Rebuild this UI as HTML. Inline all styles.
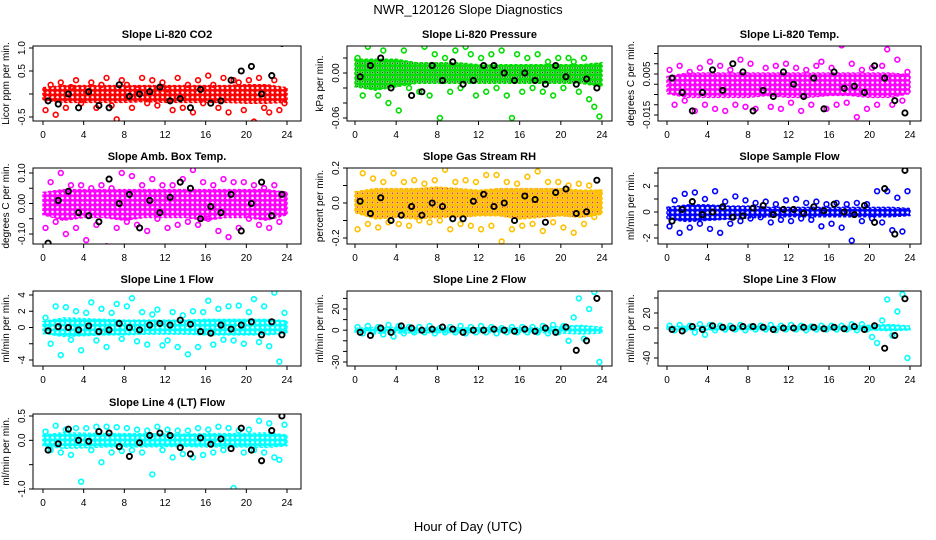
<!DOCTYPE html>
<html>
<head>
<meta charset="utf-8">
<style>
  html,body{margin:0;padding:0;background:#fff;}
  svg{display:block;font-family:"Liberation Sans",Arial,sans-serif;}
</style>
</head>
<body>
<svg id="chart" width="936" height="540" viewBox="0 0 936 540" xmlns="http://www.w3.org/2000/svg">
  <defs id="defs"></defs>
  <text x="468" y="14" text-anchor="middle" font-size="13">NWR_120126  Slope Diagnostics</text>
  <text x="468" y="531" text-anchor="middle" font-size="13">Hour of Day (UTC)</text>
</svg>
<script>
const xTicks = [0,4,8,12,16,20,24];
const bandHours = [0,2,4,6,8,10,12,14,16,18,20,22,24];

const co2Lo = [-0.15,-0.2,-0.2,-0.2,-0.2,-0.18,-0.2,-0.2,-0.2,-0.2,-0.22,-0.22,-0.2];
const co2Hi = [0.15,0.2,0.2,0.2,0.2,0.2,0.2,0.2,0.2,0.2,0.22,0.22,0.15];
const co2Pts = [-0.35,0.2,-0.45,0.25,-0.3,0.15,0.3,-0.2,0.05,0.25,-0.3,0.2,0.35,-0.25,-0.55,0.3,0.2,-0.3,0.1,0.35,-0.2,0.3,-0.25,0.25,0.1,-0.35,0.35,-0.3,0.2,-0.4,0.3,-0.2,0.4,0.2,-0.3,0.35,-0.4,0.3,0.25,-0.35,0.3,-0.6,0.35,-0.3,-0.4,0.3,-0.35,-0.2];
const co2Blk = [-0.15,-0.22,0.0,-0.3,0.05,-0.25,-0.3,0.2,-0.05,0.0,0.05,0.15,-0.15,-0.1,-0.3,0.1,-0.2,-0.15,0.3,0.5,0.6,0.0,0.4,1.1];

const presLo = [-0.02,-0.025,-0.02,-0.015,-0.015,-0.015,-0.015,-0.015,-0.015,-0.015,-0.015,-0.015,-0.02];
const presHi = [0.02,0.02,0.02,0.015,0.015,0.015,0.012,0.012,0.012,0.012,0.012,0.012,0.015];
const presPts = [0.02,-0.03,0.035,0.04,-0.03,0.03,-0.04,0.05,-0.05,0.03,-0.02,0.04,-0.025,0.035,-0.03,0.025,-0.06,0.02,-0.025,0.03,-0.02,0.035,0.025,-0.03,0.02,-0.025,0.025,-0.02,0.03,-0.03,-0.06,0.025,-0.025,0.02,-0.02,0.025,-0.025,0.015,-0.03,0.02,-0.02,0.02,0.015,-0.025,0.02,-0.035,-0.045,-0.058];
const presBlk = [-0.005,0.01,0.02,-0.02,0.045,-0.03,-0.025,0.01,-0.01,0.015,-0.015,-0.01,0.01,0.01,0.0,-0.01,0.0,-0.01,-0.015,0.01,-0.005,-0.015,-0.008,-0.02];

const tempLo = [-0.005,-0.007,-0.007,-0.007,-0.007,-0.006,-0.007,-0.007,-0.006,-0.006,-0.007,-0.007,-0.005];
const tempHi = [0.004,0.006,0.006,0.006,0.006,0.006,0.006,0.006,0.006,0.006,0.006,0.006,0.005];
const tempPts = [0.007,-0.01,0.009,-0.008,0.006,-0.013,0.008,-0.01,0.011,-0.012,0.009,-0.013,0.007,-0.01,0.012,-0.011,0.01,-0.012,-0.02,0.008,-0.011,0.009,-0.012,0.01,-0.009,0.008,-0.013,0.007,-0.01,0.009,0.011,-0.012,0.008,-0.01,0.019,-0.009,0.01,-0.016,0.007,-0.012,0.008,-0.01,0.009,0.017,-0.01,0.012,-0.008,0.006];
const tempBlk = [0.003,-0.004,-0.013,-0.004,0.007,-0.003,0.01,0.006,-0.013,-0.003,-0.006,0.006,0.0,-0.006,0.003,-0.012,0.006,-0.002,-0.001,-0.004,0.009,0.003,-0.008,-0.014];

const ambLo = [-0.04,-0.06,-0.05,-0.05,-0.06,-0.05,-0.05,-0.05,-0.06,-0.05,-0.05,-0.06,-0.04];
const ambHi = [0.04,0.05,0.05,0.05,0.05,0.05,0.05,0.05,0.05,0.05,0.05,0.05,0.04];
const ambPts = [-0.08,0.07,-0.06,0.1,-0.1,0.06,-0.08,0.06,-0.12,0.05,-0.07,0.06,-0.14,0.05,-0.08,0.1,-0.06,0.09,-0.07,0.06,-0.09,0.08,-0.05,0.06,-0.08,0.06,-0.07,0.08,-0.06,0.11,-0.07,0.07,-0.05,0.06,-0.09,0.08,-0.11,0.07,-0.08,0.07,-0.05,0.06,-0.07,0.05,-0.08,0.06,-0.06,0.03];
const ambBlk = [-0.13,0.01,0.04,-0.03,-0.04,-0.06,0.08,0.0,0.03,-0.08,0.01,-0.03,0.02,0.07,0.05,-0.05,-0.01,-0.03,0.03,-0.09,0.0,0.07,-0.04,0.03];

const rhLo = [-0.06,-0.1,-0.09,-0.1,-0.09,-0.09,-0.08,-0.08,-0.1,-0.09,-0.08,-0.09,-0.07];
const rhHi = [0.07,0.09,0.09,0.09,0.1,0.09,0.08,0.09,0.09,0.09,0.09,0.08,0.08];
const rhPts = [-0.15,0.17,-0.12,0.14,-0.14,0.12,-0.11,0.17,-0.12,0.12,-0.13,0.13,-0.1,0.11,-0.11,0.13,-0.1,0.19,-0.15,0.12,-0.12,0.13,-0.13,0.12,-0.15,0.16,-0.13,0.16,-0.22,0.12,-0.15,0.11,-0.13,0.15,-0.12,0.18,-0.16,0.12,-0.11,0.12,-0.14,0.1,-0.17,0.11,-0.12,0.1,-0.08,0.06];
const rhBlk = [0.01,-0.06,0.03,-0.1,-0.07,-0.02,-0.07,0.0,-0.02,-0.09,-0.09,0.01,0.05,-0.02,0.0,-0.1,0.04,0.02,-0.11,0.06,0.08,-0.06,-0.05,0.13];

const sfLo = [-0.6,-0.8,-0.7,-0.6,-0.5,-0.4,-0.4,-0.4,-0.4,-0.4,-0.4,-0.4,-0.3];
const sfHi = [0.4,0.6,0.6,0.5,0.5,0.4,0.4,0.4,0.4,0.4,0.4,0.4,0.3];
const sfPts = [-1.1,0.9,-1.6,1.4,-1.2,1.5,-0.9,1.0,-1.3,1.6,-1.6,0.8,-0.9,1.2,-0.7,0.9,-0.5,0.7,-0.4,0.8,-0.8,0.6,-0.6,0.9,-0.7,1.0,-0.5,0.7,-0.6,0.8,-1.1,0.6,-0.9,0.7,-1.2,0.6,-2.2,0.7,-0.7,0.6,-0.5,1.6,-0.8,1.6,-1.4,1.1,-1.5,1.6];
const sfBlk = [-0.7,0.2,0.8,-0.2,0.0,0.4,-0.4,-0.3,0.3,0.5,-0.2,0.2,0.2,-0.1,0.4,0.1,0.6,0.0,-0.2,0.5,-0.8,1.8,-1.7,3.2];

const l1Lo = [-0.8,-1.2,-1.1,-1.0,-1.0,-0.9,-0.9,-0.9,-1.0,-1.0,-1.0,-1.0,-0.8];
const l1Hi = [0.8,1.3,1.2,1.1,1.0,1.0,1.0,1.0,1.1,1.1,1.1,1.1,0.9];
const l1Pts = [1.2,-2.0,2.6,-3.4,2.5,-1.5,2.0,-2.8,1.8,3.1,-1.6,2.3,-2.4,1.8,2.9,-1.4,2.6,3.6,-1.7,1.9,-2.1,1.6,2.2,-2.2,-1.6,1.9,-2.4,1.5,-3.3,2.0,-2.4,1.9,3.3,-2.1,2.3,-1.5,2.6,-1.6,2.7,-2.0,1.9,3.5,-1.8,2.6,-2.3,4.3,-4.2,1.8];
const l1Blk = [-0.4,0.1,0.0,-0.3,0.2,-0.5,-0.3,0.5,0.0,-0.3,0.3,0.5,0.3,0.9,0.4,-0.5,-0.7,0.3,-0.2,0.3,0.7,-0.9,0.7,-0.9];

const l2Lo = [-2,-3,-3,-2.5,-2.5,-2.5,-2.5,-2.5,-2.5,-2.5,-3,-4,-3];
const l2Hi = [2,3,3,2.5,2.5,2.5,2.5,2.5,2.5,2.5,4,5,3];
const l2Pts = [3,-3,4,-2,3,-4,5,-6,4,-3,3,-2,3,-2,4,-3,2,-2,3,-2,4,-3,3,-2,4,-2,3,-3,2,-2,3,-2,3,-2,3,-2,4,-3,5,-2,4,-10,12,30,-8,20,36,-30];
const l2Blk = [-2,-5,2,-2,4,2,0,1,3,1,-2,0,0,1,0,-1,1,-1,2,-2,3,-19,-10,30];

const l3Lo = [-2,-3,-3,-2.5,-2.5,-2.5,-2.5,-2.5,-2.5,-2.5,-3,-4,-3];
const l3Hi = [2,3,3,2.5,2.5,2.5,2.5,2.5,2.5,2.5,4,5,3];
const l3Pts = [3,-3,4,-2,3,-6,5,-9,4,-3,3,-2,3,-2,4,-3,2,-2,3,-2,4,-3,3,-2,4,-2,3,-3,2,-2,3,-2,3,-2,3,-2,5,-3,5,-2,-12,-20,10,38,-10,22,45,-40];
const l3Blk = [-2,-4,2,-2,3,1,0,2,2,1,-2,0,0,1,1,-1,1,-1,2,-2,3,-27,-10,39];

const l4Lo = [-0.12,-0.18,-0.17,-0.15,-0.15,-0.15,-0.14,-0.14,-0.15,-0.15,-0.15,-0.16,-0.12];
const l4Hi = [0.12,0.17,0.16,0.15,0.15,0.15,0.14,0.14,0.15,0.15,0.15,0.17,0.12];
const l4Pts = [0.18,-0.2,0.3,-0.25,0.22,-0.3,0.25,-0.85,0.25,-0.2,0.28,-0.45,0.28,-0.25,0.27,-0.22,0.25,-0.2,0.22,-0.25,0.2,-0.7,0.28,-0.2,0.22,-0.35,0.2,-0.28,0.2,-0.35,0.25,-0.3,0.22,-0.25,0.28,-0.2,0.25,-0.98,0.2,-0.25,0.22,-0.2,0.4,-0.25,0.35,-0.35,-0.4,0.32];
const l4Blk = [-0.2,-0.07,0.23,0.0,-0.02,0.18,0.15,-0.13,-0.33,-0.05,0.1,0.15,0.1,-0.15,-0.28,0.05,-0.08,0.03,-0.17,0.25,-0.2,-0.42,0.2,0.5];

const co2Ticks = [-0.5,0,0.5,1.0];      const co2Labels = ["-0.5","","0.5","1.0"];
const presTicks = [-0.06,-0.04,-0.02,0,0.02]; const presLabels = ["-0.06","","","0.00",""];
const tempTicks = [-0.015,-0.01,-0.005,0,0.005,0.01,0.015]; const tempLabels = ["-0.015","","","","0.005","",""];
const ambTicks = [-0.1,-0.05,0,0.05,0.1]; const ambLabels = ["-0.10","","0.00","","0.10"];
const rhTicks = [-0.2,-0.1,0,0.1,0.2];  const rhLabels = ["-0.2","","0.0","","0.2"];
const sfTicks = [-2,-1,0,1,2,3];        const sfLabels = ["-2","","0","","2",""];
const l1Ticks = [-4,-2,0,2,4];          const l1Labels = ["-4","","0","2","4"];
const l2Ticks = [-30,-20,-10,0,10,20,30]; const l2Labels = ["-30","","","0","","20",""];
const l3Ticks = [-40,-20,0,20,40];      const l3Labels = ["-40","","0","20",""];
const l4Ticks = [-1.0,-0.5,0,0.5];      const l4Labels = ["-1.0","","0.0","0.5"];

const NS = "http://www.w3.org/2000/svg";
const svg = document.getElementById("chart");
const defs = document.getElementById("defs");
function mk(tag, attrs, parent){
  const e = document.createElementNS(NS, tag);
  for (const k in attrs) e.setAttribute(k, attrs[k]);
  (parent||svg).appendChild(e);
  return e;
}
const cols = [
  {l:33, r:301, x0:43, x24:287},
  {l:347, r:612, x0:355, x24:602},
  {l:658, r:921, x0:667, x24:910}
];
const rows = [{t:46,b:121},{t:168,b:244},{t:291,b:366},{t:414,b:489}];

const panels = [
  {slug:"co2", title:"Slope Li-820 CO2", ylab:"Licor ppm per min.", c:0, r:0, v1:1.0, p1:48, v2:-0.5, p2:117, color:"#ff0000", dot:null, lo:co2Lo, hi:co2Hi, pts:co2Pts, blk:co2Blk, ticks:co2Ticks, labels:co2Labels},
  {slug:"pressure", title:"Slope Li-820 Pressure", ylab:"kPa per min.", c:1, r:0, v1:0, p1:73, v2:-0.06, p2:118, color:"#00dd00", dot:"#145014", lo:presLo, hi:presHi, pts:presPts, blk:presBlk, ticks:presTicks, labels:presLabels},
  {slug:"temp", title:"Slope Li-820 Temp.", ylab:"degrees C per min.", c:2, r:0, v1:0.005, p1:74, v2:-0.015, p2:115, color:"#ff00ff", dot:null, lo:tempLo, hi:tempHi, pts:tempPts, blk:tempBlk, ticks:tempTicks, labels:tempLabels},
  {slug:"amb-box-temp", title:"Slope Amb. Box Temp.", ylab:"degrees C per min.", c:0, r:1, v1:0.1, p1:173, v2:-0.1, p2:234, color:"#ff00ff", dot:null, lo:ambLo, hi:ambHi, pts:ambPts, blk:ambBlk, ticks:ambTicks, labels:ambLabels},
  {slug:"gas-stream-rh", title:"Slope Gas Stream RH", ylab:"percent per min.", c:1, r:1, v1:0.2, p1:168, v2:-0.2, p2:238, color:"#ffc000", dot:"#e02000", lo:rhLo, hi:rhHi, pts:rhPts, blk:rhBlk, ticks:rhTicks, labels:rhLabels},
  {slug:"sample-flow", title:"Slope Sample Flow", ylab:"ml/min per min.", c:2, r:1, v1:2, p1:186, v2:-2, p2:238, color:"#0000ff", dot:null, lo:sfLo, hi:sfHi, pts:sfPts, blk:sfBlk, ticks:sfTicks, labels:sfLabels},
  {slug:"line1-flow", title:"Slope Line 1 Flow", ylab:"ml/min per min.", c:0, r:2, v1:4, p1:295, v2:-4, p2:360, color:"#00ffff", dot:null, lo:l1Lo, hi:l1Hi, pts:l1Pts, blk:l1Blk, ticks:l1Ticks, labels:l1Labels},
  {slug:"line2-flow", title:"Slope Line 2 Flow", ylab:"ml/min per min.", c:1, r:2, v1:20, p1:309, v2:-30, p2:362, color:"#00ffff", dot:null, lo:l2Lo, hi:l2Hi, pts:l2Pts, blk:l2Blk, ticks:l2Ticks, labels:l2Labels},
  {slug:"line3-flow", title:"Slope Line 3 Flow", ylab:"ml/min per min.", c:2, r:2, v1:20, p1:313, v2:-40, p2:358, color:"#00ffff", dot:null, lo:l3Lo, hi:l3Hi, pts:l3Pts, blk:l3Blk, ticks:l3Ticks, labels:l3Labels},
  {slug:"line4-flow", title:"Slope Line 4 (LT) Flow", ylab:"ml/min per min.", c:0, r:3, v1:0.5, p1:416, v2:-1.0, p2:489, color:"#00ffff", dot:null, lo:l4Lo, hi:l4Hi, pts:l4Pts, blk:l4Blk, ticks:l4Ticks, labels:l4Labels}
];

panels.forEach(p => {
  const C = cols[p.c], R = rows[p.r];
  const xs = h => C.x0 + (h/24)*(C.x24 - C.x0);
  const ys = v => p.p1 + (v - p.v1)*(p.p2 - p.p1)/(p.v2 - p.v1);

  // texture pattern for dense band (overlapping rings)
  const patId = "pat-" + p.slug;
  const pat = mk("pattern", {id:patId, width:5, height:5, patternUnits:"userSpaceOnUse"}, defs);
  mk("circle", {cx:2.5, cy:2.5, r:2.2, fill:"none", stroke:p.color, "stroke-width":"1.8"}, pat);
  mk("circle", {cx:0, cy:0, r:1.2, fill:p.color}, pat);
  mk("circle", {cx:5, cy:0, r:1.2, fill:p.color}, pat);
  mk("circle", {cx:0, cy:5, r:1.2, fill:p.color}, pat);
  mk("circle", {cx:5, cy:5, r:1.2, fill:p.color}, pat);
  if (p.dot) mk("circle", {cx:2.5, cy:2.5, r:0.9, fill:p.dot}, pat);

  const g = mk("g", {});
  
  
  const clipId = "clip-" + p.slug;
  const cp = mk("clipPath", {id: clipId}, defs);
  mk("rect", {x:C.l, y:R.t, width:C.r-C.l, height:R.b-R.t}, cp);

  const t = mk("text", {x:(C.l+C.r)/2, y:R.t-8, "text-anchor":"middle", "font-size":"11", "font-weight":"bold"}, g);
  t.textContent = p.title;
  
  

  const yl = mk("text", {x:0, y:0, "text-anchor":"middle", "font-size":"10", transform:`translate(${C.l-24},${(R.t+R.b)/2}) rotate(-90)`}, g);
  yl.textContent = p.ylab;
  
  

  const plot = mk("g", {"clip-path": `url(#${clipId})`}, g);
  
  

  let d = "";
  bandHours.forEach((h,i) => { d += (i? "L":"M") + xs(h).toFixed(1) + "," + ys(p.hi[i]).toFixed(1); });
  for (let i = bandHours.length-1; i >= 0; i--) d += "L" + xs(bandHours[i]).toFixed(1) + "," + ys(p.lo[i]).toFixed(1);
  const band = mk("path", {d: d+"Z", fill:`url(#${patId})`, stroke:p.color, "stroke-width":"1.5", "stroke-dasharray":"3 2", transform:`translate(0,${(ys(0)*0.08).toFixed(1)}) scale(1,0.92)`}, plot);
  
  

  p.pts.forEach((v,i) => {
    const c = mk("circle", {cx:xs(0.25 + i*0.5), cy:ys(v), r:2.4, fill:"none", stroke:p.color, "stroke-width":"1.6"}, plot);
    
    
  });
  p.blk.forEach((v,i) => {
    const c = mk("circle", {cx:xs(0.5 + i), cy:ys(v), r:2.6, fill:"none", stroke:"#000", "stroke-width":"1.9"}, plot);
    
    
  });

  const fr = mk("rect", {x:C.l, y:R.t, width:C.r-C.l, height:R.b-R.t, fill:"none", stroke:"#000", "stroke-width":"1"}, g);
  
  

  const xa = mk("g", {}, g);
  
  
  xTicks.forEach(h => {
    mk("line", {x1:xs(h), x2:xs(h), y1:R.b, y2:R.b+4, stroke:"#000"}, xa);
    const tl = mk("text", {x:xs(h), y:R.b+17, "text-anchor":"middle", "font-size":"10"}, xa);
    tl.textContent = String(h);
    
    
  });
  const ya = mk("g", {}, g);
  
  
  p.ticks.forEach((v,i) => {
    const y = ys(v);
    mk("line", {x1:C.l-4, x2:C.l, y1:y, y2:y, stroke:"#000"}, ya);
    if (p.labels[i]) {
      const tl = mk("text", {x:0, y:0, "text-anchor":"middle", "font-size":"10", transform:`translate(${C.l-8},${y}) rotate(-90)`}, ya);
      tl.textContent = p.labels[i];
      
      
    }
  });
});
</script>
</body>
</html>
